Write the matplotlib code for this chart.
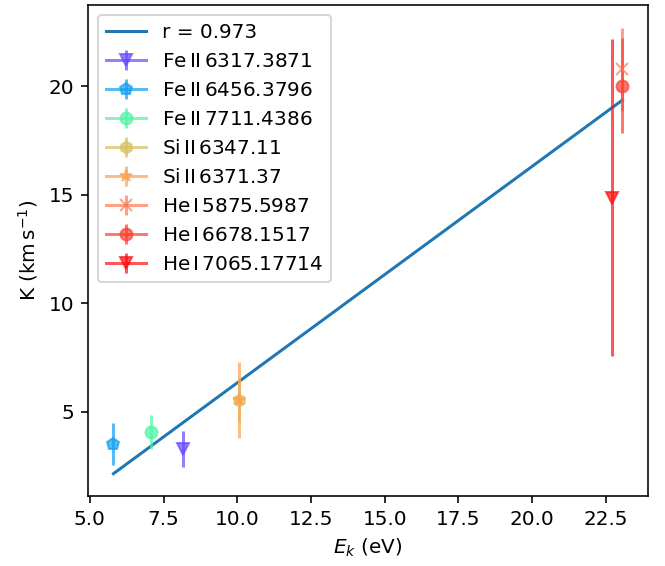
import numpy as np
import matplotlib
matplotlib.use('Agg')
import matplotlib.pyplot as plt

# Lines, excitation energy (eV), K (km/s) and errors
labels = [r'Fe$\,$II$\,$6317.3871', r'Fe$\,$II$\,$6456.3796', r'Fe$\,$II$\,$7711.4386',
          r'Si$\,$II$\,$6347.11', r'Si$\,$II$\,$6371.37',
          r'He$\,$I$\,$5875.5987', r'He$\,$I$\,$6678.1517', r'He$\,$I$\,$7065.17714']
ek = [8.17, 5.80, 7.08, 10.05, 10.07, 23.06, 23.06, 22.71]
k_vals = [3.29, 3.52, 4.07, 5.55, 5.54, 20.77, 20.03, 14.86]
k_err = [0.83, 0.95, 0.77, 1.0, 1.74, 1.93, 2.2, 7.3]
markers = ['v', 'p', 'o', 'h', '*', 'x', 'o', 'v']
colors = ['#6a48ff', '#10a0f0', '#50f5a5', '#d8c060', '#ffa050', '#ff7850', '#ff4030', '#ff1010']

# linear fit
slope = 0.997
intercept = -3.63
r_value = 0.973

fig = plt.figure(figsize=(665 / 144, 566 / 144), dpi=144)
ax = fig.add_axes([0.1323, 0.1237, 0.842, 0.867])

xfit = np.array([min(ek), max(ek)])
ax.plot(xfit, slope * xfit + intercept, color='C0', label='r = %.3f' % r_value)

for i in range(len(labels)):
    ax.errorbar(ek[i], k_vals[i], yerr=k_err[i], marker=markers[i], linestyle='-',
                markersize=6, color=colors[i], alpha=0.7, label=labels[i])

ax.set_xlabel(r'$E_k$ (eV)')
ax.set_ylabel(r'K (km$\,$s$^{-1}$)')
ax.legend(loc='upper left')

plt.savefig('out.png', dpi=144)
